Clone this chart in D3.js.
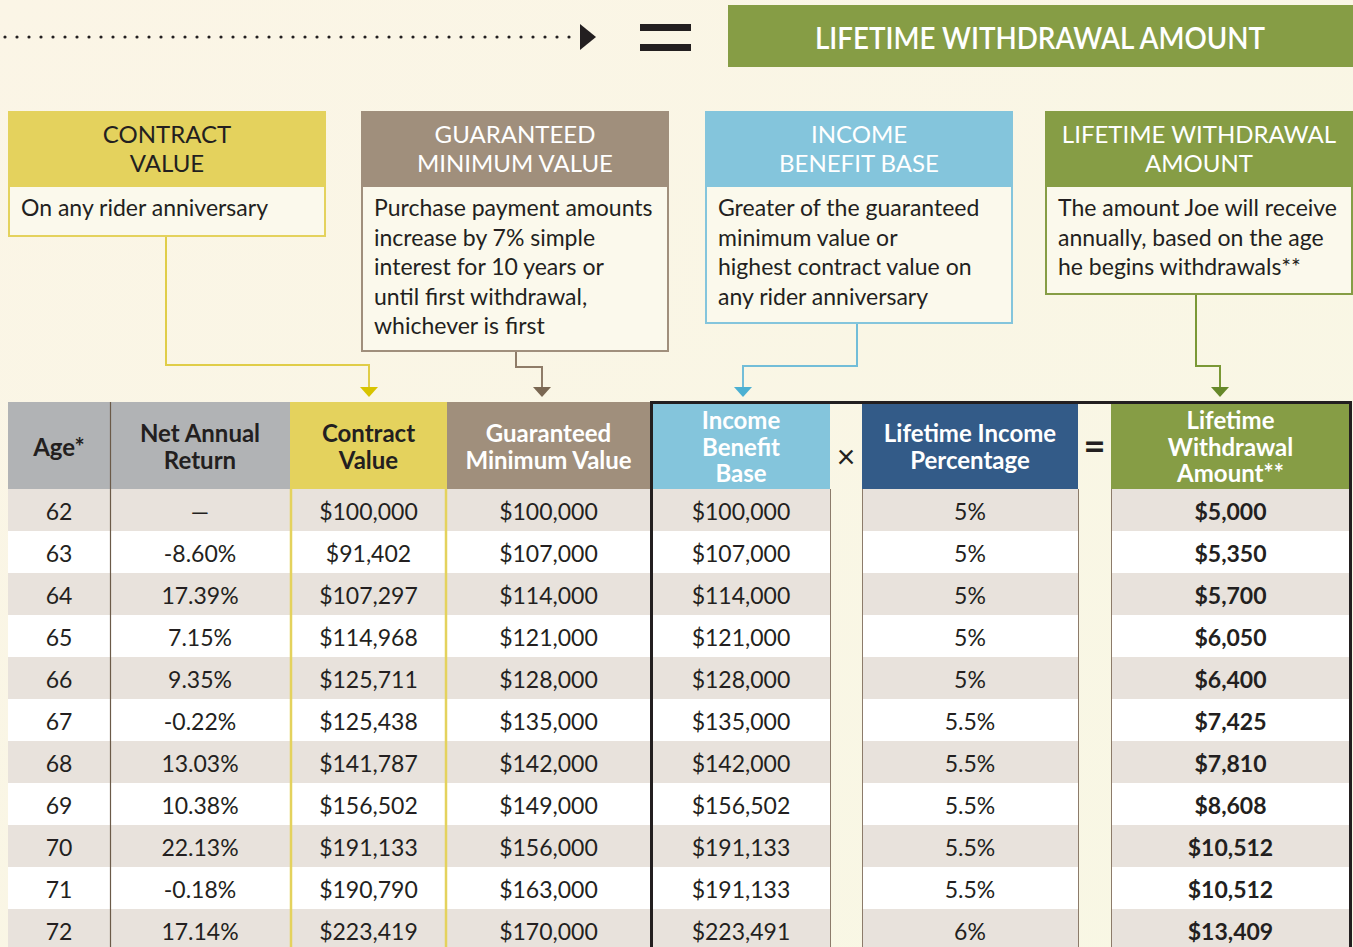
<!DOCTYPE html>
<html>
<head>
<meta charset="utf-8">
<script src="https://cdn.jsdelivr.net/npm/d3@7"></script>
<style>
  html, body { margin: 0; padding: 0; background: #f9f6e5; }
  svg { display: block; font-family: Lato, "Open Sans", sans-serif; }
</style>
</head>
<body>
<div id="chart"></div>
<script>
// table data
const ages = [62, 63, 64, 65, 66, 67, 68, 69, 70, 71, 72];
const netReturn = ["—", "-8.60%", "17.39%", "7.15%", "9.35%", "-0.22%", "13.03%", "10.38%", "22.13%", "-0.18%", "17.14%"];
const contractValue = [100000, 91402, 107297, 114968, 125711, 125438, 141787, 156502, 191133, 190790, 223419];
const guaranteedMin = [100000, 107000, 114000, 121000, 128000, 135000, 142000, 149000, 156000, 163000, 170000];
const incomeBase = [100000, 107000, 114000, 121000, 128000, 135000, 142000, 156502, 191133, 191133, 223491];
const incomePct = [5, 5, 5, 5, 5, 5.5, 5.5, 5.5, 5.5, 5.5, 6];
const withdrawal = [5000, 5350, 5700, 6050, 6400, 7425, 7810, 8608, 10512, 10512, 13409];

const colHeaders = [
    ["Age*"],
    ["Net Annual", "Return"],
    ["Contract", "Value"],
    ["Guaranteed", "Minimum Value"],
    ["Income", "Benefit", "Base"],
    ["×"],
    ["Lifetime Income", "Percentage"],
    ["="],
    ["Lifetime", "Withdrawal", "Amount**"]
];

const boxTitles = [
    ["CONTRACT", "VALUE"],
    ["GUARANTEED", "MINIMUM VALUE"],
    ["INCOME", "BENEFIT BASE"],
    ["LIFETIME WITHDRAWAL", "AMOUNT"]
];
const boxTexts = [
    ["On any rider anniversary"],
    ["Purchase payment amounts", "increase by 7% simple", "interest for 10 years or", "until first withdrawal,", "whichever is first"],
    ["Greater of the guaranteed", "minimum value or", "highest contract value on", "any rider anniversary"],
    ["The amount Joe will receive", "annually, based on the age", "he begins withdrawals**"]
];
const bannerTitle = "LIFETIME WITHDRAWAL AMOUNT";

// layout
const width = 1353, height = 947;
const ink = "#231f20";
const boxLayout = [
    { x: 8, w: 318, bodyH: 50, fill: "#e4d25d", titleFill: ink, line: "#e0cd48", arrow: "#d8c400" },
    { x: 361, w: 308, bodyH: 165, fill: "#a08f7c", titleFill: "#fff", line: "#8f7c68", arrow: "#7a6752" },
    { x: 705, w: 308, bodyH: 137, fill: "#84c5dc", titleFill: "#fff", line: "#72bdd8", arrow: "#4cb0d2" },
    { x: 1045, w: 308, bodyH: 108, fill: "#869d45", titleFill: "#fff", line: "#7a9835", arrow: "#66882a" }
];
const boxTop = 111, boxHeadH = 75;

// connectors: [startX, bendY, endX]
const connectors = [[166, 365, 369], [516, 367, 542], [857, 366, 743], [1196, 366, 1220]];
const arrowTip = 397;

const cols = [
    { x0: 8, x1: 110, head: "#b1b3b5", headText: ink },
    { x0: 110, x1: 290, head: "#b1b3b5", headText: ink },
    { x0: 290, x1: 447, head: "#e4d25d", headText: ink },
    { x0: 447, x1: 650, head: "#a08f7c", headText: "#fff" },
    { x0: 652, x1: 830, head: "#84c5dc", headText: "#fff" },
    { x0: 830, x1: 862, head: null, headText: ink, gap: true },
    { x0: 862, x1: 1078, head: "#335b88", headText: "#fff" },
    { x0: 1078, x1: 1111, head: null, headText: ink, gap: true },
    { x0: 1111, x1: 1350, head: "#869d45", headText: "#fff" }
];
const headTop = 402, headBottom = 489, rowH = 42;

const money = d3.format("$,");
const cellValues = ages.map((a, i) => [
    String(a), netReturn[i], money(contractValue[i]), money(guaranteedMin[i]),
    money(incomeBase[i]), null, incomePct[i] + "%", null, money(withdrawal[i])
]);

const svg = d3.select("#chart").append("svg")
    .attr("width", width)
    .attr("height", height);

const grad = svg.append("defs").append("linearGradient")
    .attr("id", "bg").attr("x1", 0).attr("y1", 0).attr("x2", 1).attr("y2", 1);
grad.append("stop").attr("offset", 0).attr("stop-color", "#fbf5e6");
grad.append("stop").attr("offset", 1).attr("stop-color", "#f8f7e4");
svg.append("rect").attr("width", width).attr("height", height).attr("fill", "url(#bg)");

// top banner: dotted arrow, equals sign, title
svg.append("line")
    .attr("x1", 5).attr("x2", 574).attr("y1", 37).attr("y2", 37)
    .attr("stroke", ink).attr("stroke-width", 3.2)
    .attr("stroke-linecap", "round").attr("stroke-dasharray", "0 12");
svg.append("path").attr("d", "M580,24 L596,37 L580,50 Z").attr("fill", ink);
svg.selectAll("rect.eq").data([24, 44]).enter().append("rect")
    .attr("class", "eq").attr("x", 640).attr("y", d => d).attr("width", 51).attr("height", 7)
    .attr("fill", ink);
svg.append("rect").attr("x", 728).attr("y", 5).attr("width", 625).attr("height", 62).attr("fill", "#869d45");
svg.append("text")
    .attr("x", 1040).attr("y", 49).attr("text-anchor", "middle")
    .attr("fill", "#fff").attr("font-size", 30).attr("font-weight", 600)
    .attr("textLength", 450).attr("lengthAdjust", "spacingAndGlyphs")
    .text(bannerTitle);

// description boxes
const boxes = svg.selectAll("g.box").data(boxLayout).enter().append("g").attr("class", "box");
boxes.append("rect")
    .attr("x", d => d.x + 1).attr("y", boxTop + boxHeadH)
    .attr("width", d => d.w - 2).attr("height", d => d.bodyH)
    .attr("fill", "#fbf9ec").attr("stroke", d => d.fill).attr("stroke-width", 2);
boxes.append("rect")
    .attr("x", d => d.x).attr("y", boxTop)
    .attr("width", d => d.w).attr("height", boxHeadH)
    .attr("fill", d => d.fill);
boxes.each(function (d, i) {
    const g = d3.select(this);
    g.selectAll("text.title").data(boxTitles[i]).enter().append("text")
        .attr("class", "title")
        .attr("x", d.x + d.w / 2).attr("y", (t, j) => 143 + j * 29)
        .attr("text-anchor", "middle").attr("font-size", 24)
        .attr("fill", d.titleFill)
        .text(t => t);
    g.selectAll("text.body").data(boxTexts[i]).enter().append("text")
        .attr("class", "body")
        .attr("x", d.x + 13).attr("y", (t, j) => 216 + j * 29.5)
        .attr("font-size", 23).attr("fill", ink)
        .text(t => t);
});

// connectors with arrowheads
const line = d3.line();
connectors.forEach((c, i) => {
    const b = boxLayout[i];
    const startY = boxTop + boxHeadH + b.bodyH + 1;
    svg.append("path")
        .attr("d", line([[c[0], startY], [c[0], c[1]], [c[2], c[1]], [c[2], arrowTip - 8]]))
        .attr("fill", "none").attr("stroke", b.line).attr("stroke-width", 2);
    svg.append("path")
        .attr("d", `M${c[2] - 9},${arrowTip - 10} L${c[2] + 9},${arrowTip - 10} L${c[2]},${arrowTip} Z`)
        .attr("fill", b.arrow);
});

// table rows
const y = d3.scaleBand().domain(ages).range([headBottom, headBottom + rowH * ages.length]);

const rows = svg.selectAll("g.row").data(ages).enter().append("g").attr("class", "row");
rows.each(function (a, i) {
    const g = d3.select(this);
    const fill = i % 2 === 0 ? "#e8e2dc" : "#ffffff";
    cols.forEach((c, k) => {
        if (c.gap) return;
        g.append("rect")
            .attr("x", c.x0).attr("y", y(a))
            .attr("width", c.x1 - c.x0 + (k === 3 ? 2 : 0)).attr("height", y.bandwidth())
            .attr("fill", fill);
    });
});

// column headers
const heads = svg.selectAll("g.head").data(cols).enter().append("g").attr("class", "head");
heads.filter(d => d.head).append("rect")
    .attr("x", d => d.x0).attr("y", headTop)
    .attr("width", d => d.x1 - d.x0).attr("height", headBottom - headTop)
    .attr("fill", d => d.head);
heads.each(function (d, k) {
    const lines = colHeaders[k];
    const lh = 26.5;
    const mid = d.gap ? (k === 5 ? 456 : 446) : 447;
    const fs = d.gap ? (k === 5 ? 32 : 38) : 24;
    const fw = d.gap ? (k === 5 ? 400 : 700) : 700;
    d3.select(this).selectAll("text").data(lines).enter().append("text")
        .attr("x", (d.x0 + d.x1) / 2)
        .attr("y", (t, j) => mid + (j - (lines.length - 1) / 2) * lh)
        .attr("dy", "0.36em")
        .attr("text-anchor", "middle")
        .attr("font-size", fs).attr("font-weight", fw)
        .attr("fill", d.headText)
        .text(t => t);
});

// vertical rules
svg.append("line").attr("x1", 110.5).attr("x2", 110.5).attr("y1", headTop).attr("y2", height)
    .attr("stroke", "#6b5a48").attr("stroke-width", 1.2);
svg.selectAll("line.yel").data([291, 446]).enter().append("line").attr("class", "yel")
    .attr("x1", d => d).attr("x2", d => d).attr("y1", headBottom).attr("y2", height)
    .attr("stroke", "#e4d25d").attr("stroke-width", 2.5);
svg.selectAll("line.gap").data([830.5, 862.5, 1078.5, 1111.5]).enter().append("line").attr("class", "gap")
    .attr("x1", d => d).attr("x2", d => d).attr("y1", headBottom).attr("y2", height)
    .attr("stroke", "#8c7b6a").attr("stroke-width", 1);

// black frame around the formula part
svg.append("rect")
    .attr("x", 651.5).attr("y", 402.5).attr("width", 699).attr("height", 600)
    .attr("fill", "none").attr("stroke", ink).attr("stroke-width", 3);

// cell values
rows.each(function (a, i) {
    const g = d3.select(this);
    cols.forEach((c, k) => {
        const v = cellValues[i][k];
        if (v === null) return;
        g.append("text")
            .attr("x", (c.x0 + c.x1) / 2)
            .attr("y", y(a) + y.bandwidth() / 2)
            .attr("dy", "0.42em")
            .attr("text-anchor", "middle")
            .attr("font-size", 23)
            .attr("font-weight", k === 8 ? 700 : 400)
            .attr("fill", ink)
            .text(v);
    });
});
</script>
</body>
</html>
